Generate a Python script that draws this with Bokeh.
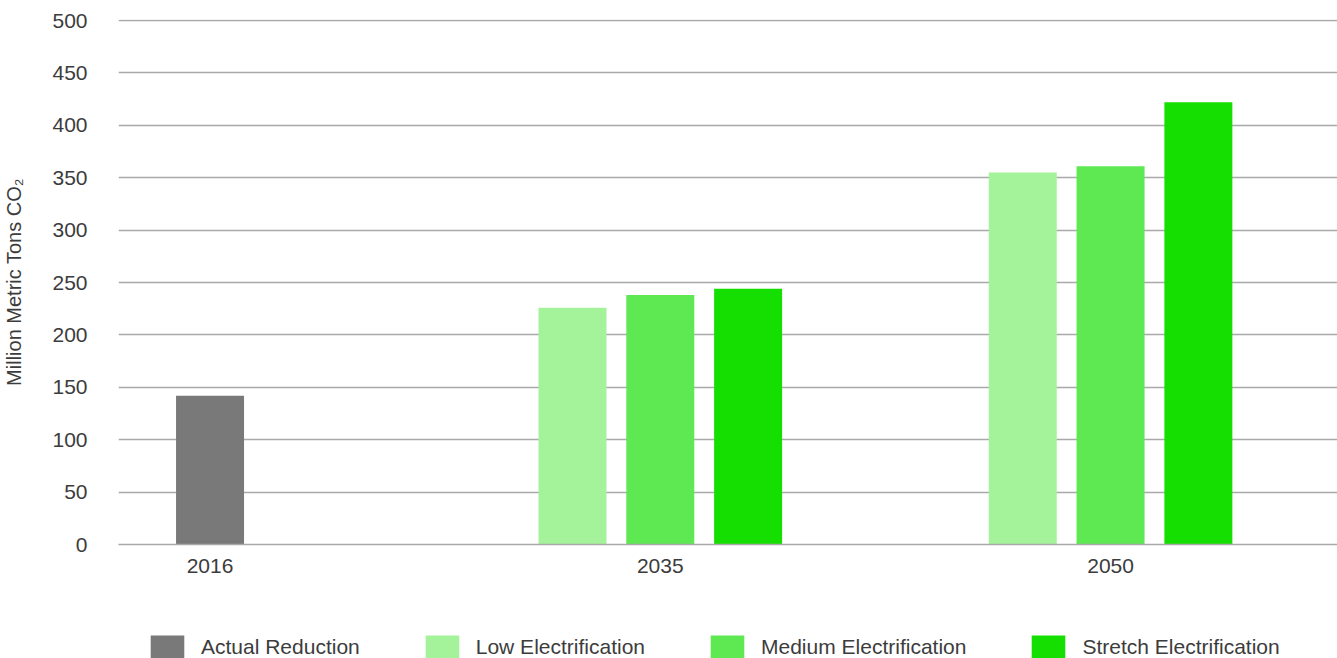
from bokeh.plotting import figure
from bokeh.layouts import column
from bokeh.models import Range1d, FixedTicker, Legend, LegendItem, ColumnDataSource
from bokeh.embed import file_html
from bokeh.resources import INLINE

# ---- data ----
categories = ["2016", "2035", "2050"]
series_names = ["Actual Reduction", "Low Electrification", "Medium Electrification", "Stretch Electrification"]
actual_reduction = [142, None, None]
low_electrification = [None, 226, 355]
medium_electrification = [None, 238, 361]
stretch_electrification = [None, 244, 422]
y_ticks = [0, 50, 100, 150, 200, 250, 300, 350, 400, 450, 500]

series_values = [actual_reduction, low_electrification, medium_electrification, stretch_electrification]
colors = ["#797979", "#a4f39a", "#5ee851", "#15df00"]

FONT = "Liberation Sans"
TXT = "#3c3c3c"
GRID = "#a9a9a9"

p = figure(width=1337, height=600, output_backend="svg", toolbar_location=None,
           x_range=Range1d(-0.2033, 2.504), y_range=Range1d(0, 501),
           min_border_left=116, min_border_right=0, min_border_top=19, min_border_bottom=56)
p.outline_line_color = None

step = 0.195   # distance between bars inside a group (category units)
bar_w = 0.151

for j, (name, vals, col) in enumerate(zip(series_names, series_values, colors)):
    xs, tops = [], []
    for i, cat in enumerate(categories):
        if vals[i] is None:
            continue
        present = [k for k in range(len(series_values)) if series_values[k][i] is not None]
        pos = present.index(j)
        xs.append(i + (pos - (len(present) - 1) / 2) * step)
        tops.append(vals[i])
    p.vbar(x="x", top="top", bottom=0, width=bar_w,
           source=ColumnDataSource(dict(x=xs, top=tops)), fill_color=col, line_color=None)

# axes
p.xaxis.ticker = FixedTicker(ticks=list(range(len(categories))))
p.xaxis.major_label_overrides = {i: c for i, c in enumerate(categories)}
p.xaxis.axis_line_color = GRID
p.xaxis.axis_line_width = 1.5
p.xaxis.major_tick_line_color = None
p.xaxis.major_tick_out = 0
p.xaxis.major_tick_in = 0
p.xaxis.minor_tick_line_color = None
p.xaxis.major_label_text_font = FONT
p.xaxis.major_label_text_font_size = "21px"
p.xaxis.major_label_text_color = TXT
p.xaxis.major_label_standoff = 14

p.yaxis.ticker = FixedTicker(ticks=y_ticks)
p.yaxis.axis_line_color = None
p.yaxis.major_tick_line_color = None
p.yaxis.major_tick_out = 0
p.yaxis.major_tick_in = 0
p.yaxis.minor_tick_line_color = None
p.yaxis.major_label_text_font = FONT
p.yaxis.major_label_text_font_size = "21px"
p.yaxis.major_label_text_color = TXT
p.yaxis.major_label_standoff = 31
p.yaxis.axis_label = "Million Metric Tons CO\u2082"
p.yaxis.axis_label_text_font = FONT
p.yaxis.axis_label_text_font_size = "20px"
p.yaxis.axis_label_text_font_style = "normal"
p.yaxis.axis_label_text_color = TXT
p.yaxis.axis_label_standoff = 24

p.xgrid.grid_line_color = None
p.ygrid.grid_line_color = GRID
p.ygrid.grid_line_width = 1.5

# legend strip (frame is aligned with the main plot's frame by the column layout)
lg = figure(width=1337, height=58, output_backend="svg", toolbar_location=None,
            x_range=Range1d(0, 1), y_range=Range1d(0, 1),
            x_axis_location=None, y_axis_location=None, min_border=0)
lg.outline_line_color = None
lg.xgrid.grid_line_color = None
lg.ygrid.grid_line_color = None
items = []
for name, col in zip(series_names, colors):
    # swatch-only renderer placed outside the visible range
    r = lg.vbar(x=[-5], top=[0], bottom=0, width=0.1, fill_color=col, line_color=None)
    items.append(LegendItem(label=name, renderers=[r]))
legend = Legend(items=items, orientation="horizontal", location=(28, -3),
                glyph_width=42, glyph_height=29, label_standoff=13, spacing=61,
                padding=0, margin=0, border_line_color=None, background_fill_alpha=0,
                label_text_font=FONT, label_text_font_size="21px", label_text_color=TXT,
                label_height=23)
lg.add_layout(legend, "center")

layout = column(p, lg, spacing=0)
open("out.html", "w").write(file_html(layout, INLINE))
